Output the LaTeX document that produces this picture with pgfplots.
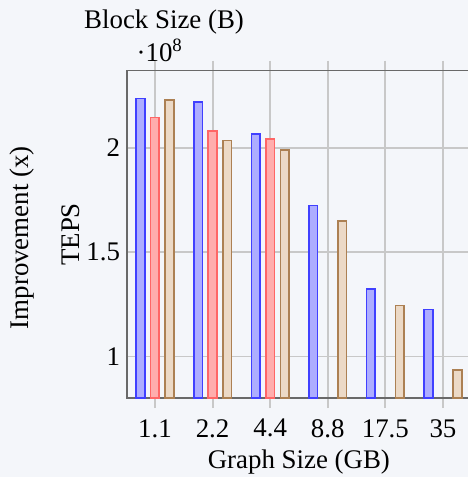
\documentclass[border=0pt]{standalone}
\usepackage{pgfplots}
\pgfplotsset{compat=1.18}
\usepackage{fontspec}
\setmainfont{Liberation Serif}
\definecolor{bg}{RGB}{244,246,250}
\definecolor{gridc}{RGB}{200,200,200}
\definecolor{axc}{RGB}{105,105,105}
\begin{document}
\begin{tikzpicture}
\path[use as bounding box] (-47.24pt,-29.28pt) rectangle (126.85pt,148.17pt);
\clip (-47.24pt,-29.28pt) rectangle (126.85pt,148.17pt);
\fill[bg] (-47.24pt,-29.28pt) rectangle (126.85pt,148.17pt);
\begin{axis}[
  at={(0,0)}, anchor=south west,
  scale only axis, width=149.4pt, height=121.9pt,
  xmin=-0.486, xmax=6.486,
  ymin=0.8e8, ymax=2.37e8,
  ybar=2.2pt, bar width=3.2pt,
  xtick={0,1,2,3,4,5}, xticklabels={1.1,2.2,4.4,8.8,17.5,35},
  ytick={1e8,1.5e8,2e8},
  grid=major, grid style={gridc, line width=0.7pt},
  axis line style={axc, line width=0.6pt},
  tick align=outside,
  xtick style={gridc, line width=0.7pt, /pgfplots/major tick length=3.7pt},
  ytick style={draw=none},
  yticklabel style={xshift=5.2pt},
  ytick pos=left,
  /pgf/number format/assume math mode=true,
  ytick scale label code/.code={\textperiodcentered10\textsuperscript{#1}},
  every y tick scale label/.style={at={(rel axis cs:0,1)}, anchor=base west, xshift=-1.8pt, yshift=3.3pt, inner sep=0pt},
  xlabel={Graph Size (GB)},
  every axis x label/.style={at={(axis description cs:0.428,-0.195)}, anchor=center},
  ylabel={TEPS},
  every axis y label/.style={at={(axis description cs:-0.139,0.5)}, rotate=90, anchor=center},
]
\addplot[draw=blue!75, fill=blue!32, line width=0.6pt] coordinates {(0,2.237e8) (1,2.221e8) (2,2.065e8) (3,1.724e8) (4,1.323e8) (5,1.226e8)};
\addplot[draw=red!60, fill=red!32, line width=0.6pt] coordinates {(0,2.146e8) (1,2.081e8) (2,2.041e8)};
\addplot[draw=brown!70!gray, fill=brown!30, line width=0.6pt] coordinates {(0,2.229e8) (1,2.035e8) (2,1.990e8) (3,1.649e8) (4,1.244e8) (5,0.936e8)};
\end{axis}
\node at (13.8pt,140pt) {Block Size (B)};
\node[rotate=90] at (-39.1pt,59.7pt) {Improvement (x)};
\end{tikzpicture}
\end{document}
